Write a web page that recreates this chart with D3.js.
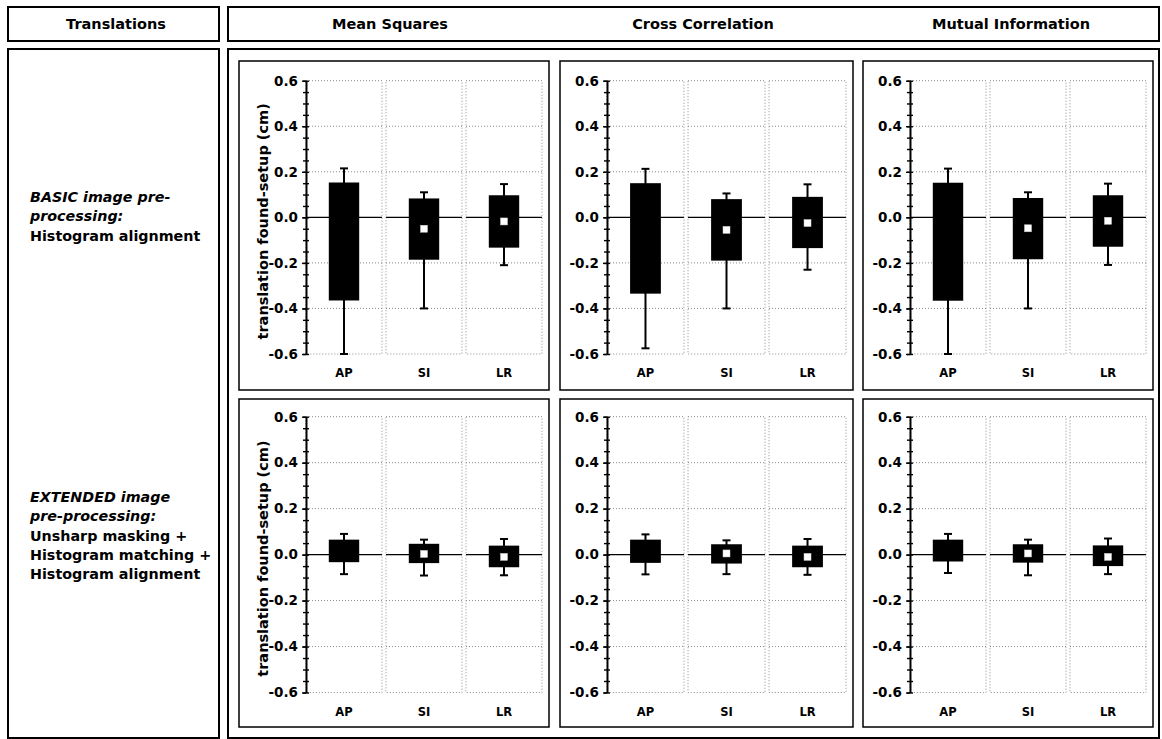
<!doctype html>
<html>
<head>
	<script src="https://d3js.org/d3.v7.min.js"></script>
	<style>
		body { margin: 0; background: #fff; }
		svg { display: block; }
		text { font-family: "DejaVu Sans", Verdana, sans-serif; font-weight: bold; fill: #000; }
	</style>
</head>
<body>
	<svg id="viz" width="1162" height="739"></svg>
	<script>

		// ---- data ----
		var methods = ["Mean Squares", "Cross Correlation", "Mutual Information"];
		var categories = ["AP", "SI", "LR"];
		var yTickValues = [-0.6, -0.4, -0.2, 0, 0.2, 0.4, 0.6];

		// [method][category]
		var basicBoxHigh     = [[0.153, 0.083, 0.097], [0.150, 0.080, 0.090], [0.152, 0.085, 0.097]];
		var basicBoxLow      = [[-0.365, -0.186, -0.133], [-0.335, -0.190, -0.135], [-0.366, -0.184, -0.129]];
		var basicWhiskerHigh = [[0.215, 0.110, 0.146], [0.213, 0.105, 0.145], [0.214, 0.110, 0.148]];
		var basicWhiskerLow  = [[-0.600, -0.400, -0.210], [-0.575, -0.400, -0.230], [-0.600, -0.400, -0.209]];
		var basicMarker      = [[null, -0.050, -0.018], [null, -0.055, -0.025], [null, -0.048, -0.015]];

		var extBoxHigh     = [[0.065, 0.047, 0.039], [0.065, 0.045, 0.039], [0.065, 0.045, 0.040]];
		var extBoxLow      = [[-0.033, -0.037, -0.055], [-0.036, -0.039, -0.055], [-0.030, -0.035, -0.050]];
		var extWhiskerHigh = [[0.090, 0.065, 0.068], [0.088, 0.062, 0.068], [0.090, 0.065, 0.070]];
		var extWhiskerLow  = [[-0.085, -0.091, -0.090], [-0.086, -0.085, -0.088], [-0.080, -0.090, -0.085]];
		var extMarker      = [[null, 0.003, -0.010], [null, 0.005, -0.010], [null, 0.005, -0.010]];

		var basicLabel = [
			{text: "BASIC image pre-", italic: true},
			{text: "processing:", italic: true},
			{text: "Histogram alignment", italic: false}
		];
		var extLabel = [
			{text: "EXTENDED image", italic: true},
			{text: "pre-processing:", italic: true},
			{text: "Unsharp masking +", italic: false},
			{text: "Histogram matching +", italic: false},
			{text: "Histogram alignment", italic: false}
		];

		var svg = d3.select("#viz");

		// ---- outer frame ----
		var frame = [
			{x: 8, y: 7, w: 211, h: 34},
			{x: 228, y: 7, w: 931, h: 34},
			{x: 8, y: 49, w: 211, h: 689},
			{x: 228, y: 49, w: 931, h: 689}
		];
		svg.selectAll("rect.frame")
			.data(frame)
			.enter()
			.append("rect")
				.attr("class", "frame")
				.attr("x", d => d.x).attr("y", d => d.y)
				.attr("width", d => d.w).attr("height", d => d.h)
				.attr("fill", "none").attr("stroke", "#000").attr("stroke-width", 2);

		svg.append("text")
			.attr("x", 116).attr("y", 29)
			.attr("text-anchor", "middle").attr("font-size", 14.5)
			.text("Translations");

		var headerX = [390, 703, 1011];
		svg.selectAll("text.header")
			.data(methods)
			.enter()
			.append("text")
				.attr("class", "header")
				.attr("x", (d, i) => headerX[i]).attr("y", 29)
				.attr("text-anchor", "middle").attr("font-size", 14.5)
				.text(d => d);

		function rowLabel(lines, y0) {
			svg.append("g").selectAll("text")
				.data(lines)
				.enter()
				.append("text")
					.attr("x", 30).attr("y", (d, i) => y0 + i * 19.3)
					.attr("font-size", 14.3)
					.attr("font-style", d => d.italic ? "italic" : "normal")
					.text(d => d.text);
		}
		rowLabel(basicLabel, 202);
		rowLabel(extLabel, 502);

		// ---- panels ----
		var panelX = [[239, 549], [560, 853], [863, 1153]];
		var rowY = [{top: 61, bottom: 390, pt: 80.7, pb: 354}, {top: 399, bottom: 727, pt: 416.7, pb: 692.5}];

		var rowsData = [
			{high: basicBoxHigh, low: basicBoxLow, wHigh: basicWhiskerHigh, wLow: basicWhiskerLow, mark: basicMarker},
			{high: extBoxHigh, low: extBoxLow, wHigh: extWhiskerHigh, wLow: extWhiskerLow, mark: extMarker}
		];

		rowsData.forEach((rd, r) => {
			methods.forEach((m, c) => {
				drawPanel(rd, r, c);
			});
		});

		function drawPanel(rd, r, c) {
			var left = panelX[c][0], right = panelX[c][1];
			var ry = rowY[r];
			var axisX = left + (c == 0 ? 67 : 47);
			var plotR = right - 7;

			var g = svg.append("g");

			g.append("rect")
				.attr("x", left).attr("y", ry.top)
				.attr("width", right - left).attr("height", ry.bottom - ry.top)
				.attr("fill", "#fff").attr("stroke", "#000").attr("stroke-width", 1.5);

			var xScale = d3.scaleBand()
				.domain(categories)
				.range([axisX, plotR])
				.paddingInner(0.05);

			var yScale = d3.scaleLinear()
				.domain([-0.6, 0.6])
				.range([ry.pb, ry.pt]);

			// category columns with dotted grid
			var cols = g.selectAll("g.col")
				.data(categories)
				.enter()
				.append("g")
					.attr("class", "col");

			cols.append("rect")
				.attr("x", d => xScale(d)).attr("y", yScale(0.6))
				.attr("width", xScale.bandwidth()).attr("height", yScale(-0.6) - yScale(0.6))
				.attr("fill", "none").attr("stroke", "#8a8a8a").attr("stroke-width", 1)
				.attr("stroke-dasharray", "1,2");

			cols.selectAll("line.grid")
				.data(yTickValues.filter(v => v != 0 && Math.abs(v) < 0.6))
				.enter()
				.append("line")
					.attr("class", "grid")
					.attr("x1", function() { return xScale(d3.select(this.parentNode).datum()); })
					.attr("x2", function() { return xScale(d3.select(this.parentNode).datum()) + xScale.bandwidth(); })
					.attr("y1", v => yScale(v)).attr("y2", v => yScale(v))
					.attr("stroke", "#8a8a8a").attr("stroke-width", 1)
					.attr("stroke-dasharray", "1,2");

			cols.append("line")
				.attr("x1", d => xScale(d)).attr("x2", d => xScale(d) + xScale.bandwidth())
				.attr("y1", yScale(0)).attr("y2", yScale(0))
				.attr("stroke", "#000").attr("stroke-width", 1.2);

			// boxes and whiskers
			var items = categories.map((cat, k) => ({
				cat: cat,
				high: rd.high[c][k], low: rd.low[c][k],
				wHigh: rd.wHigh[c][k], wLow: rd.wLow[c][k],
				mark: rd.mark[c][k]
			}));
			var cx = d => xScale(d.cat) + xScale.bandwidth() / 2;
			var boxW = xScale.bandwidth() * 0.4;

			g.selectAll("line.whisker")
				.data(items)
				.enter()
				.append("line")
					.attr("class", "whisker")
					.attr("x1", cx).attr("x2", cx)
					.attr("y1", d => yScale(d.wHigh)).attr("y2", d => yScale(d.wLow))
					.attr("stroke", "#000").attr("stroke-width", 2);

			["wHigh", "wLow"].forEach(key => {
				g.selectAll("line.cap-" + key)
					.data(items)
					.enter()
					.append("line")
						.attr("x1", d => cx(d) - 4).attr("x2", d => cx(d) + 4)
						.attr("y1", d => yScale(d[key])).attr("y2", d => yScale(d[key]))
						.attr("stroke", "#000").attr("stroke-width", 2);
			});

			g.selectAll("rect.box")
				.data(items)
				.enter()
				.append("rect")
					.attr("class", "box")
					.attr("x", d => cx(d) - boxW / 2)
					.attr("y", d => yScale(d.high))
					.attr("width", boxW)
					.attr("height", d => yScale(d.low) - yScale(d.high))
					.attr("fill", "#000");

			g.selectAll("rect.mark")
				.data(items.filter(d => d.mark !== null))
				.enter()
				.append("rect")
					.attr("class", "mark")
					.attr("x", d => cx(d) - 3.5)
					.attr("y", d => yScale(d.mark) - 3.5)
					.attr("width", 7).attr("height", 7)
					.attr("fill", "#fff").attr("stroke", "#ccc").attr("stroke-width", 0.5);

			// y axis: minor ticks crossing the line, labels on major
			var minorTicks = d3.range(-12, 13).map(i => i * 0.05);

			var axisG = g.append("g").attr("transform", "translate(" + axisX + ",0)");
			axisG.append("g")
				.call(d3.axisLeft(yScale).tickValues(minorTicks).tickSize(3).tickSizeOuter(0).tickFormat(""));
			axisG.append("g")
				.call(d3.axisRight(yScale).tickValues(minorTicks).tickSize(3).tickSizeOuter(0).tickFormat(""));
			axisG.append("g")
				.attr("class", "labels")
				.call(d3.axisLeft(yScale).tickValues(yTickValues).tickSize(4).tickSizeOuter(0).tickPadding(4)
					.tickFormat(d => d.toFixed(1)));
			axisG.selectAll("path, line").attr("stroke", "#000").attr("stroke-width", 1.4);
			axisG.selectAll("text")
				.attr("font-size", 13.5)
				.attr("font-family", "DejaVu Sans")
				.attr("font-weight", "bold")
				.attr("fill", "#000");

			// category labels
			var xAxis = d3.axisBottom(xScale).tickSize(0).tickPadding(0);
			var xg = g.append("g")
				.attr("transform", "translate(0," + (ry.pb + 15) + ")")
				.call(xAxis);
			xg.select(".domain").remove();
			xg.selectAll("text")
				.attr("font-size", 11.5)
				.attr("font-family", "DejaVu Sans")
				.attr("font-weight", "bold")
				.attr("fill", "#000");

			if (c == 0) {
				g.append("text")
					.attr("transform", "translate(" + (left + 29) + "," + ((ry.pt + ry.pb) / 2 + 4) + ") rotate(-90)")
					.attr("text-anchor", "middle")
					.attr("font-size", 14.5)
					.text("translation found-setup (cm)");
			}
		}
	</script>
</body>
</html>
